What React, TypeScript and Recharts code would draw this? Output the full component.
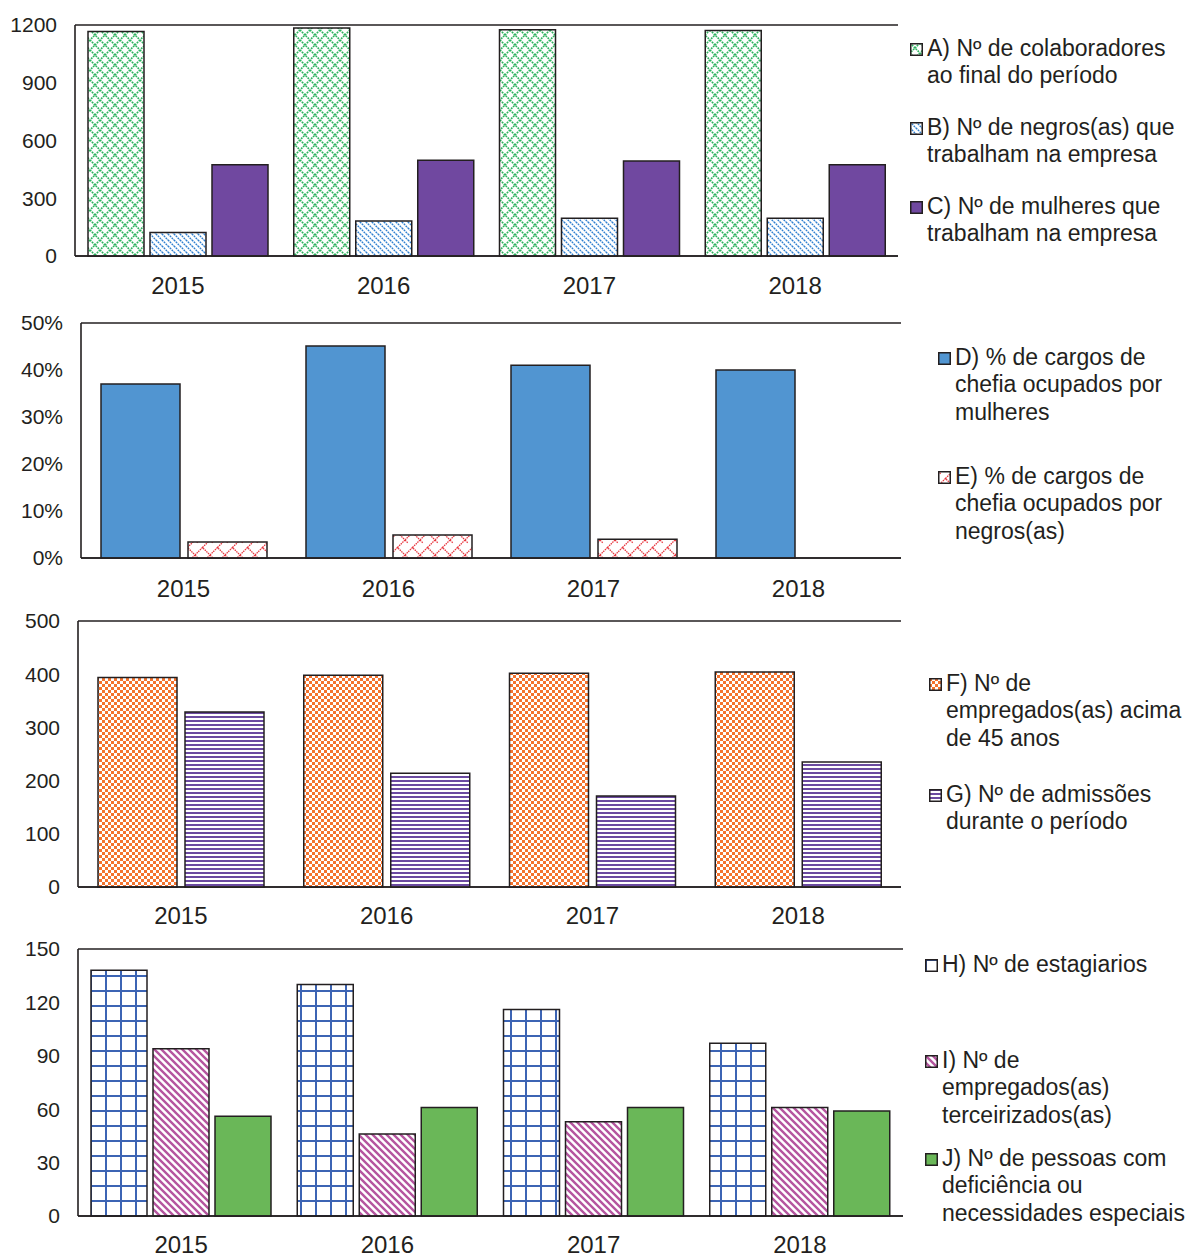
import React from "react";
import { BarChart, Bar, XAxis, YAxis, CartesianGrid } from "recharts";

const years = ["2015", "2016", "2017", "2018"];

// gráfico 1
const colaboradores = [1166, 1184, 1175, 1172];
const negros = [122, 182, 196, 196];
const mulheres = [474, 497, 493, 474];
// gráfico 2 (%)
const chefiaMulheres = [37, 45.1, 41, 40];
const chefiaNegros = [3.4, 4.9, 4, 0];
// gráfico 3
const acima45 = [394, 398, 402, 404];
const admissoes = [329, 214, 171, 235];
// gráfico 4
const estagiarios = [138, 130, 116, 97];
const terceirizados = [94, 46, 53, 61];
const deficiencia = [56, 61, 61, 59];

const ticks1 = [0, 300, 600, 900, 1200];
const ticks2 = [0, 10, 20, 30, 40, 50];
const ticks3 = [0, 100, 200, 300, 400, 500];
const ticks4 = [0, 30, 60, 90, 120, 150];

const FONT = '"Liberation Sans", Arial, Helvetica, sans-serif';
const INK = "#231f20";

type Serie = { key: string; values: number[]; fill: string; label: string[] };

const chart1: Serie[] = [
  { key: "a", values: colaboradores, fill: "url(#patA)", label: ["A) Nº de colaboradores", "ao final do período"] },
  { key: "b", values: negros, fill: "url(#patB)", label: ["B) Nº de negros(as) que", "trabalham na empresa"] },
  { key: "c", values: mulheres, fill: "#7048a0", label: ["C) Nº de mulheres que", "trabalham na empresa"] },
];
const chart2: Serie[] = [
  { key: "d", values: chefiaMulheres, fill: "#5195d1", label: ["D) % de cargos de", "chefia ocupados por", "mulheres"] },
  { key: "e", values: chefiaNegros, fill: "url(#patE)", label: ["E) % de cargos de", "chefia ocupados por", "negros(as)"] },
];
const chart3: Serie[] = [
  { key: "f", values: acima45, fill: "url(#patF)", label: ["F) Nº de", "empregados(as) acima", "de 45 anos"] },
  { key: "g", values: admissoes, fill: "url(#patG)", label: ["G) Nº de admissões", "durante o período"] },
];
const chart4: Serie[] = [
  { key: "h", values: estagiarios, fill: "url(#patH)", label: ["H) Nº de estagiarios"] },
  { key: "i", values: terceirizados, fill: "url(#patI)", label: ["I) Nº de", "empregados(as)", "terceirizados(as)"] },
  { key: "j", values: deficiencia, fill: "#6ab758", label: ["J) Nº de pessoas com", "deficiência ou", "necessidades especiais"] },
];

function Patterns() {
  return (
    <svg width={0} height={0} style={{ position: "absolute" }}>
      <defs>
        <pattern id="patA" patternUnits="userSpaceOnUse" width={10} height={10}>
          <rect width={10} height={10} fill="#fff" />
          <path d="M0,0 L10,10 M10,0 L0,10" fill="none" stroke="#2fb35f" strokeWidth={1.6} strokeDasharray="1.8 0.9" />
        </pattern>
        <pattern id="patB" patternUnits="userSpaceOnUse" width={6} height={6}>
          <rect width={6} height={6} fill="#fff" />
          <path d="M0,0 L6,6 M-1,5 L1,7 M5,-1 L7,1" fill="none" stroke="#2f7fd0" strokeWidth={1.4} strokeDasharray="1.8 0.8" />
        </pattern>
        <pattern id="patE" patternUnits="userSpaceOnUse" width={15} height={15}>
          <rect width={15} height={15} fill="#fff" />
          <path d="M0,15 L7.5,7.5 L15,15 M7.5,7.5 L15,0 M0,0 L3,3" fill="none" stroke="#e8373f" strokeWidth={1.3} strokeDasharray="1.5 0.8" />
        </pattern>
        <pattern id="patF" patternUnits="userSpaceOnUse" width={6} height={6}>
          <rect width={6} height={6} fill="#fff" />
          <rect width={3} height={3} fill="#f4732e" />
          <rect x={3} y={3} width={3} height={3} fill="#f4732e" />
        </pattern>
        <pattern id="patG" patternUnits="userSpaceOnUse" width={4} height={4}>
          <rect width={4} height={4} fill="#fff" />
          <rect width={4} height={2} fill="#6b4aa0" />
        </pattern>
        <pattern id="patH" patternUnits="userSpaceOnUse" width={15} height={15}>
          <rect width={15} height={15} fill="#fff" />
          <rect x={0} y={0} width={2} height={15} fill="#3c64b4" />
          <rect x={0} y={0} width={15} height={2} fill="#3c64b4" />
        </pattern>
        <pattern id="patI" patternUnits="userSpaceOnUse" width={7} height={7}>
          <rect width={7} height={7} fill="#fff" />
          <path d="M0,0 L7,7 M-1,6 L1,8 M6,-1 L8,1" fill="none" stroke="#b5559f" strokeWidth={2.4} />
        </pattern>
      </defs>
    </svg>
  );
}

type PanelProps = {
  top: number;
  plotTop: number;
  plotBottom: number;
  plotLeft: number;
  plotRight: number;
  series: Serie[];
  ticks: number[];
  fmt?: (v: number) => string;
  barSize: number;
  barGap: number;
  labelGap: number;
  axisH: number;
};

function Panel({ top, plotTop, plotBottom, plotLeft, plotRight, series, ticks, fmt, barSize, barGap, labelGap, axisH }: PanelProps) {
  const data = years.map((year, i) => {
    const row: Record<string, string | number> = { year };
    series.forEach((s) => (row[s.key] = s.values[i]));
    return row;
  });
  const width = plotRight + 6;
  const height = plotBottom - top + axisH;
  return (
    <div style={{ position: "absolute", left: 0, top }}>
      <BarChart
        width={width}
        height={height}
        data={data}
        margin={{ top: plotTop - top, right: 6, left: 0, bottom: 0 }}
        barGap={barGap}
        barSize={barSize}
        style={{ overflow: "visible" }}
      >
        <CartesianGrid vertical={false} stroke={INK} strokeWidth={1.5} />
        <XAxis
          dataKey="year"
          height={axisH}
          tickLine={false}
          axisLine={{ stroke: INK, strokeWidth: 1.6 }}
          tickMargin={labelGap}
          tick={{ fontSize: 24, fill: INK, fontFamily: FONT }}
        />
        <YAxis
          yAxisId="l"
          width={plotLeft}
          domain={[0, ticks[ticks.length - 1]]}
          ticks={ticks}
          interval={0}
          tickLine={false}
          tickSize={0}
          tickMargin={18}
          tickFormatter={fmt}
          axisLine={{ stroke: INK, strokeWidth: 1.6 }}
          tick={{ fontSize: 21, fill: INK, fontFamily: FONT }}
        />
        <YAxis
          yAxisId="r"
          orientation="right"
          width={0}
          tick={false}
          tickLine={false}
          axisLine={{ stroke: INK, strokeWidth: 1.6 }}
        />
        {series.map((s) => (
          <Bar
            key={s.key}
            yAxisId="l"
            dataKey={s.key}
            fill={s.fill}
            stroke={INK}
            strokeWidth={1.5}
            isAnimationActive={false}
          />
        ))}
      </BarChart>
    </div>
  );
}

type LegendPos = { x: number; y: number };

function LegendBlock({ series, pos }: { series: Serie[]; pos: LegendPos[] }) {
  return (
    <>
      {series.map((s, i) => (
        <div
          key={s.key}
          style={{
            position: "absolute",
            left: pos[i].x,
            top: pos[i].y - 13,
            display: "flex",
            alignItems: "flex-start",
            fontFamily: FONT,
            fontSize: 23,
            lineHeight: "27.3px",
            color: INK,
            whiteSpace: "nowrap",
          }}
        >
          <svg width={13} height={13} style={{ marginTop: 8, marginRight: 4 }}>
            <rect x={0.75} y={0.75} width={11.5} height={11.5} fill={s.fill} stroke={INK} strokeWidth={1.5} />
          </svg>
          <div>
            {s.label.map((l) => (
              <div key={l}>{l}</div>
            ))}
          </div>
        </div>
      ))}
    </>
  );
}

export default function App() {
  return (
    <div style={{ position: "absolute", left: 0, top: 0, width: 1191, height: 1257, background: "#fff", fontFamily: FONT, overflow: "hidden" }}>
      <Patterns />
      <Panel top={0} plotTop={25} plotBottom={256} plotLeft={75} plotRight={898} series={chart1} ticks={ticks1} barSize={56} barGap={6} labelGap={15} axisH={50} />
      <Panel
        top={300}
        plotTop={323}
        plotBottom={558}
        plotLeft={81}
        plotRight={901}
        series={chart2}
        ticks={ticks2}
        fmt={(v) => `${v}%`}
        barSize={79}
        barGap={8}
        labelGap={16}
        axisH={50}
      />
      <Panel top={600} plotTop={621} plotBottom={887} plotLeft={78} plotRight={901} series={chart3} ticks={ticks3} barSize={79} barGap={8} labelGap={14} axisH={50} />
      <Panel top={930} plotTop={949} plotBottom={1216} plotLeft={78} plotRight={903} series={chart4} ticks={ticks4} barSize={56} barGap={6} labelGap={14} axisH={41} />

      <LegendBlock series={chart1} pos={[{ x: 910, y: 48 }, { x: 910, y: 127 }, { x: 910, y: 206 }]} />
      <LegendBlock series={chart2} pos={[{ x: 938, y: 357 }, { x: 938, y: 476 }]} />
      <LegendBlock series={chart3} pos={[{ x: 929, y: 683 }, { x: 929, y: 794 }]} />
      <LegendBlock series={chart4} pos={[{ x: 925, y: 964 }, { x: 925, y: 1060 }, { x: 925, y: 1158 }]} />
    </div>
  );
}
